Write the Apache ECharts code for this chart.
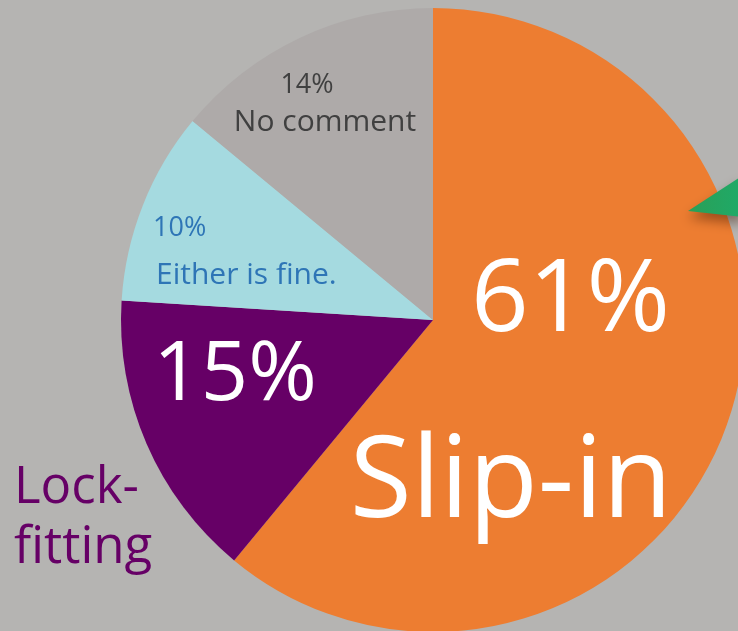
<!DOCTYPE html>
<html>
<head>
<meta charset="utf-8">
<script src="https://cdn.jsdelivr.net/npm/echarts@6/dist/echarts.min.js"></script>
<style>
  html, body { margin: 0; padding: 0; background: #b5b4b2; }
  #chart { width: 738px; height: 631px; }
</style>
</head>
<body>
<div id="chart"></div>
<script>
// Survey answers: preferred fitting type
const categories = ['Slip-in', 'Lock-fitting', 'Either is fine.', 'No comment'];
const shares = [61, 15, 10, 14];
const sliceColors = ['#ed7d31', '#660066', '#a5dae0', '#aeaaa9'];

const FONT = '"Open Sans", "Noto Sans", sans-serif';

const chart = echarts.init(document.getElementById('chart'), null, { renderer: 'canvas' });

// label anchor per slice (x, y, align, verticalAlign)
const labelAnchors = [
  { x: 672, y: 392, align: 'right', verticalAlign: 'middle' },
  { x: 235, y: 376, align: 'center', verticalAlign: 'middle' },
  { x: 153, y: 252, align: 'left', verticalAlign: 'middle' },
  { x: 325, y: 104, align: 'center', verticalAlign: 'middle' }
];

const pieData = categories.map((name, i) => ({
  name: name,
  value: shares[i],
  itemStyle: { color: sliceColors[i] }
}));

chart.setOption({
  backgroundColor: '#b5b4b2',
  animation: false,
  series: [{
    type: 'pie',
    center: [433, 320],
    radius: 312,
    startAngle: 90,
    clockwise: true,
    silent: true,
    data: pieData,
    label: {
      show: true,
      position: 'inside',
      fontFamily: FONT,
      formatter: function (p) {
        const pct = p.value + '%';
        switch (p.dataIndex) {
          case 0: return '{big|' + pct + '}\n{name|' + p.name + '}';
          case 1: return '{mid|' + pct + '}';
          case 2: return '{sp|' + pct + '}\n{sn|' + p.name + '}';
          default: return '{np|' + pct + '}\n{nn|' + p.name + '}';
        }
      },
      rich: {
        big: { fontFamily: FONT, fontSize: 101, color: '#ffffff', lineHeight: 186, align: 'right', padding: [0, 2, 0, 0] },
        name: { fontFamily: FONT, fontSize: 113, color: '#ffffff', lineHeight: 180, align: 'right' },
        mid: { fontFamily: FONT, fontSize: 83, color: '#ffffff', lineHeight: 100 },
        sp: { fontFamily: FONT, fontSize: 27, color: '#2e75b6', lineHeight: 46, align: 'left' },
        sn: { fontFamily: FONT, fontSize: 30, color: '#2e75b6', lineHeight: 48, align: 'left', padding: [0, 0, 0, 3] },
        np: { fontFamily: FONT, fontSize: 27, color: '#404040', lineHeight: 36, align: 'center', padding: [0, 36, 0, 0] },
        nn: { fontFamily: FONT, fontSize: 30, color: '#404040', lineHeight: 38, align: 'center' }
      }
    },
    labelLine: { show: false },
    labelLayout: function (params) {
      const a = labelAnchors[params.dataIndex];
      return { x: a.x, y: a.y, align: a.align, verticalAlign: a.verticalAlign, hideOverlap: false };
    }
  }],
  graphic: [
    {
      type: 'text',
      left: 14,
      top: 458,
      z: 100,
      silent: true,
      style: {
        text: 'Lock-\nfitting',
        fontFamily: FONT,
        fontSize: 51,
        lineHeight: 60,
        fill: '#660066'
      }
    },
    {
      type: 'polygon',
      z: 100,
      silent: true,
      shape: { points: [[688, 211], [742, 176], [742, 217]] },
      style: {
        fill: new echarts.graphic.LinearGradient(0, 0, 1, 0, [
          { offset: 0, color: '#2a9f57' },
          { offset: 1, color: '#1faa68' }
        ]),
        shadowColor: 'rgba(60, 20, 0, 0.45)',
        shadowBlur: 12,
        shadowOffsetY: 7
      }
    }
  ]
});
</script>
</body>
</html>
